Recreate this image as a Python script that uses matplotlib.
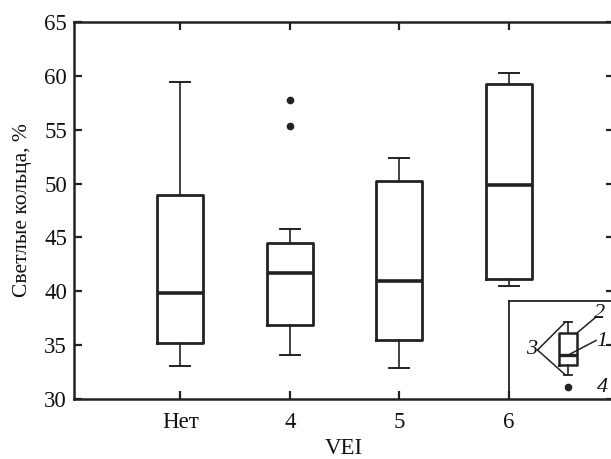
""" Box plot of light rings vs VEI """

# imports
import matplotlib
matplotlib.use('Agg')
import matplotlib.pyplot as plt

# data
categories = ['Нет', '4', '5', '6']
whisLow = [33.1, 34.1, 32.9, 40.5]
boxLow = [35.2, 36.9, 35.5, 41.1]
medians = [39.8, 41.7, 41.0, 49.9]
boxHigh = [48.9, 44.5, 50.2, 59.2]
whisHigh = [59.4, 45.8, 52.4, 60.3]
outliers = [[], [57.8, 55.3], [], []]
yTicks = [30, 35, 40, 45, 50, 55, 60, 65]

# style
plt.rcParams['font.family'] = ['Liberation Serif', 'DejaVu Serif']
plt.rcParams['font.size'] = 16
ink = '#111111'

fig = plt.figure(figsize=(6.11, 4.59), dpi=100)
W, H = 611, 459
ax = fig.add_axes([74 / W, 60 / H, 540 / W, 377 / H])

# build stats for bxp
stats = []
for i, name in enumerate(categories):
	stats.append({'label': name, 'whislo': whisLow[i], 'q1': boxLow[i], 'med': medians[i],
	              'q3': boxHigh[i], 'whishi': whisHigh[i], 'fliers': outliers[i]})

ax.bxp(stats, positions=[1, 2, 3, 4], widths=0.42, showfliers=True,
       boxprops=dict(color='#222222', linewidth=2.0),
       medianprops=dict(color='#222222', linewidth=2.6),
       whiskerprops=dict(color='#222222', linewidth=1.2),
       capprops=dict(color='#222222', linewidth=1.4),
       capwidths=0.18,
       flierprops=dict(marker='o', markerfacecolor='#222222', markeredgecolor='#222222', markersize=4.5))

ax.set_xlim(0.03, 4.96)
ax.set_ylim(30, 65)
ax.set_yticks(yTicks)
ax.set_xticks([1, 2, 3, 4])
ax.set_xticklabels(categories)
ax.tick_params(direction='in', length=6, width=1.6, top=True, right=True, colors='#222222',
               labelcolor=ink, labelsize=16.5)
ax.tick_params(axis='y', pad=5)
ax.tick_params(axis='x', pad=9)
for s in ax.spines.values():
	s.set_linewidth(1.8)
	s.set_color('#222222')
ax.set_ylabel('Светлые кольца, %', color=ink, labelpad=9, fontsize=15.5)
ax.set_xlabel('VEI', color=ink, labelpad=4, fontsize=16.5)

# legend key inset
ins = fig.add_axes([509 / W, 60 / H, 106 / W, 98 / H])
ins.set_xlim(0, 106)
ins.set_ylim(98, 0)
ins.set_xticks([])
ins.set_yticks([])
ins.patch.set_alpha(0)
ins.spines['right'].set_visible(False)
ins.spines['bottom'].set_visible(False)
ins.spines['left'].set_linewidth(1.3)
ins.spines['top'].set_linewidth(1.3)
for s in ins.spines.values():
	s.set_color('#222222')
keyStats = [{'whislo': 74, 'q1': 64, 'med': 54, 'q3': 31.7, 'whishi': 20.7, 'fliers': [86.3]}]
ins.bxp(keyStats, positions=[59.3], widths=18, capwidths=8,
        boxprops=dict(color='#222222', linewidth=1.8),
        medianprops=dict(color='#222222', linewidth=2.4),
        whiskerprops=dict(color='#222222', linewidth=1.2),
        capprops=dict(color='#222222', linewidth=1.3),
        flierprops=dict(marker='o', markerfacecolor='#222222', markeredgecolor='#222222', markersize=4.5),
        manage_ticks=False)
ins.plot([28.5, 56.5], [49, 21], color='#222222', lw=1.1)
ins.plot([28.5, 56.5], [49, 74], color='#222222', lw=1.1)
ins.plot([68.3, 87], [31.7, 16], color='#222222', lw=1.1)
ins.plot([59.3, 87], [54, 39.5], color='#222222', lw=1.1)
ins.text(23, 49, '3', ha='center', va='center', style='italic', color=ink, fontsize=16)
ins.text(91, 12, '2', ha='center', va='center', style='italic', color=ink, fontsize=16)
ins.text(93, 40, '1', ha='center', va='center', style='italic', color=ink, fontsize=16)
ins.text(93, 86, '4', ha='center', va='center', style='italic', color=ink, fontsize=16)

fig.savefig('out.png', dpi=100)
